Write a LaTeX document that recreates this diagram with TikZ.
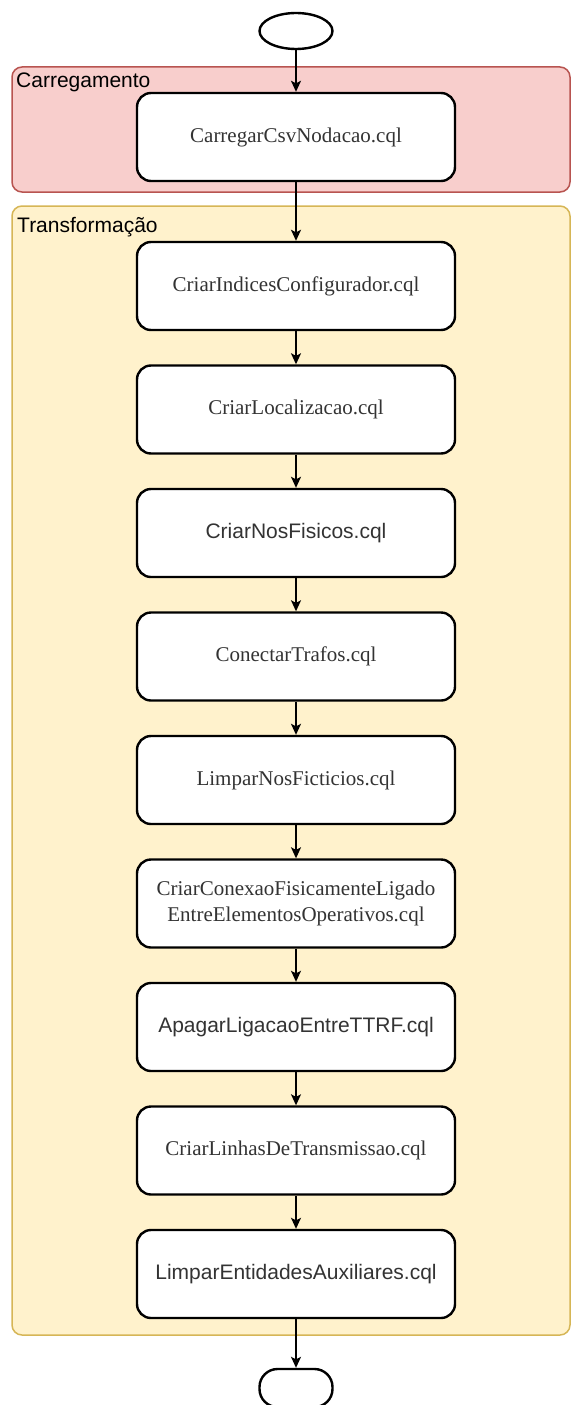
\documentclass[tikz,border=0pt]{standalone}
\usepackage{fontspec}
\setmainfont{Liberation Serif}
\newfontfamily\arialfont{Liberation Sans}
\usetikzlibrary{arrows.meta,shapes.geometric}
\definecolor{loadfill}{HTML}{F8CECC}
\definecolor{loaddraw}{HTML}{B85450}
\definecolor{transfill}{HTML}{FFF2CC}
\definecolor{transdraw}{HTML}{D6B656}
\definecolor{boxtext}{HTML}{333333}
\tikzset{
  stepbox/.style={draw=black, line width=2.4pt, fill=white, rounded corners=14pt,
    minimum width=318pt, minimum height=88pt, inner sep=0pt, align=center,
    text=boxtext, font=\fontsize{21}{25.5}\selectfont},
  sansbox/.style={stepbox, font=\arialfont\fontsize{21}{25.5}\selectfont},
  terminal/.style={draw=black, line width=2.4pt, fill=white, ellipse,
    minimum width=73pt, minimum height=36pt, inner sep=0pt},
  endterminal/.style={draw=black, line width=2.4pt, fill=white, rectangle,
    rounded corners=18pt, minimum width=73pt, minimum height=38pt, inner sep=0pt},
  lane/.style={line width=1.5pt, rounded corners=10pt},
  lanelabel/.style={anchor=base west, inner sep=0pt, text=black,
    font=\arialfont\fontsize{21}{25}\selectfont},
  flow/.style={line width=1.5pt, -{Stealth[length=11pt,width=10pt,inset=2.5pt]}}
}
\begin{document}
\begin{tikzpicture}[x=1pt,y=-1pt]
\useasboundingbox (0,0) rectangle (571,1405);
\begin{scope}
\clip (0,0) rectangle (571,1405);

% swimlanes
\draw[lane, fill=loadfill, draw=loaddraw] (12,67) rectangle (570,192);
\node[lanelabel] (lblload) at (16,87) {Carregamento};
\draw[lane, fill=transfill, draw=transdraw] (12,206) rectangle (570,1335);
\node[lanelabel] (lbltrans) at (17,232) {Transformação};

% terminals
\node[terminal] (start) at (296,31) {};
\node[endterminal] (stop) at (296,1388) {};

% steps
\node[stepbox] (s1) at (296,137) {CarregarCsvNodacao.cql};
\node[stepbox] (s2) at (296,286) {CriarIndicesConfigurador.cql};
\node[stepbox] (s3) at (296,409.5) {CriarLocalizacao.cql};
\node[sansbox] (s4) at (296,533) {CriarNosFisicos.cql};
\node[stepbox] (s5) at (296,656.5) {ConectarTrafos.cql};
\node[stepbox] (s6) at (296,780) {LimparNosFicticios.cql};
\node[stepbox] (s7) at (296,903.5) {CriarConexaoFisicamenteLigado\\EntreElementosOperativos.cql};
\node[sansbox] (s8) at (296,1027) {ApagarLigacaoEntreTTRF.cql};
\node[stepbox] (s9) at (296,1150.5) {CriarLinhasDeTransmissao.cql};
\node[sansbox] (s10) at (296,1274) {LimparEntidadesAuxiliares.cql};

% connectors
\draw[flow] (start) -- (s1);
\draw[flow] (s1) -- (s2);
\draw[flow] (s2) -- (s3);
\draw[flow] (s3) -- (s4);
\draw[flow] (s4) -- (s5);
\draw[flow] (s5) -- (s6);
\draw[flow] (s6) -- (s7);
\draw[flow] (s7) -- (s8);
\draw[flow] (s8) -- (s9);
\draw[flow] (s9) -- (s10);
\draw[flow] (s10) -- (stop);
\end{scope}
\end{tikzpicture}
\end{document}
